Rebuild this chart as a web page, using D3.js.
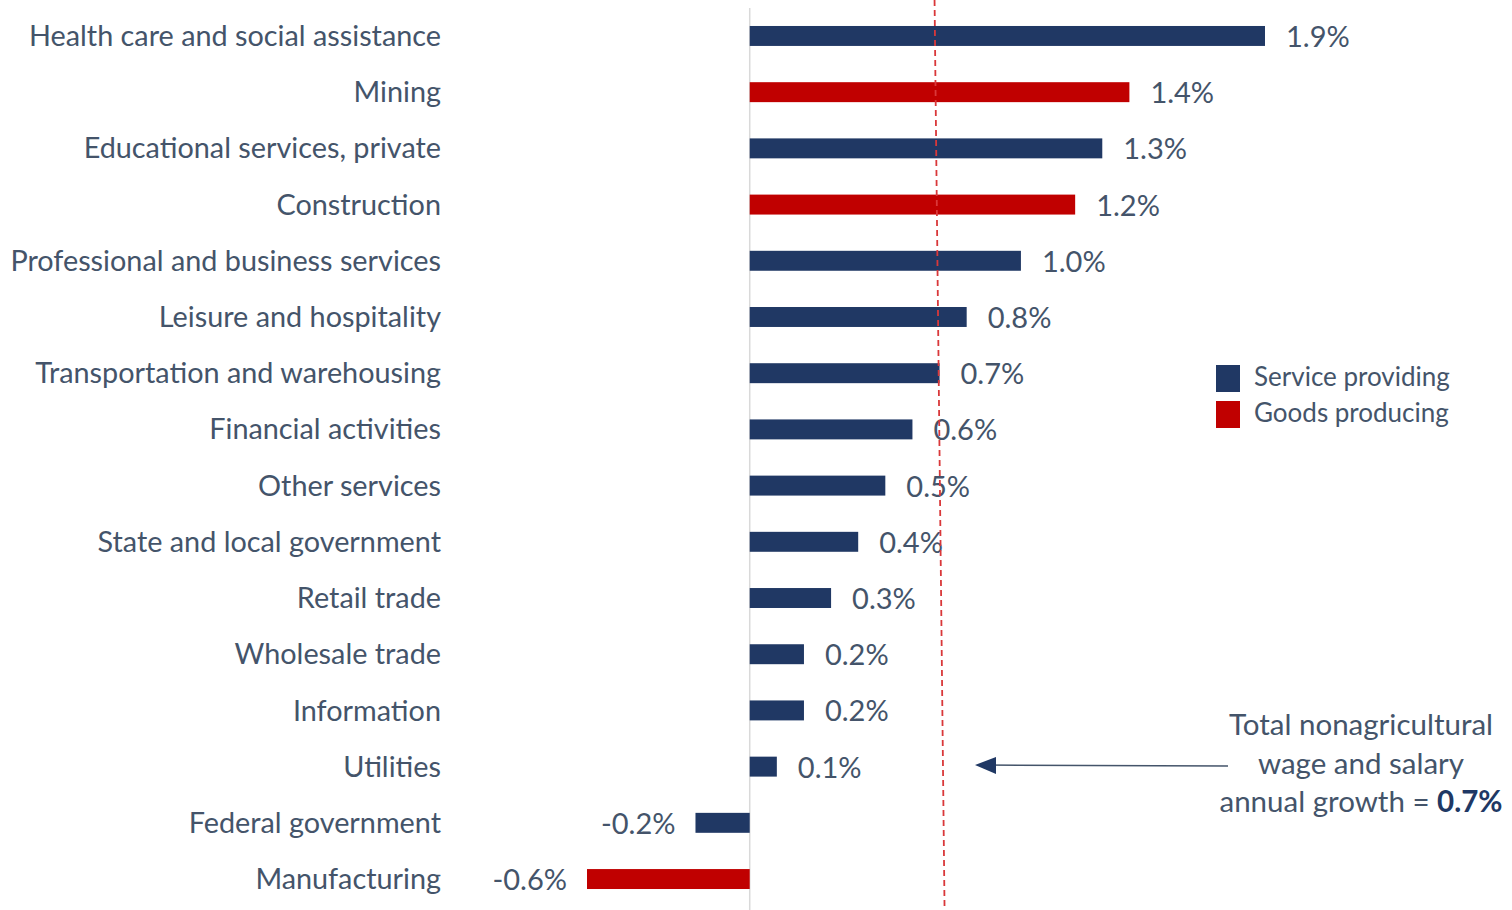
<!DOCTYPE html>
<html>
<head>
<meta charset="utf-8">
<script src="https://cdn.jsdelivr.net/npm/d3@7"></script>
<style>
body { margin: 0; background: #fff; }
text { font-family: Lato, "Open Sans", sans-serif; }
</style>
</head>
<body>
<svg id="chart"></svg>
<script>
// data
const industries = ['Health care and social assistance', 'Mining', 'Educational services, private',
  'Construction', 'Professional and business services', 'Leisure and hospitality',
  'Transportation and warehousing', 'Financial activities', 'Other services',
  'State and local government', 'Retail trade', 'Wholesale trade', 'Information',
  'Utilities', 'Federal government', 'Manufacturing'];
const growth = [1.9, 1.4, 1.3, 1.2, 1.0, 0.8, 0.7, 0.6, 0.5, 0.4, 0.3, 0.2, 0.2, 0.1, -0.2, -0.6];
const sector = ['S', 'G', 'S', 'G', 'S', 'S', 'S', 'S', 'S', 'S', 'S', 'S', 'S', 'S', 'S', 'G'];
const totalGrowth = 0.7;
const legendItems = ['Service providing', 'Goods producing'];

const width = 1512;
const height = 910;
const textColor = '#44546a';
const colors = { S: '#203864', G: '#c00000' };

const svg = d3.select('#chart')
  .attr('width', width)
  .attr('height', height);

const x = d3.scaleLinear()
  .domain([-0.6, 1.9])
  .range([587, 1265]);

const y = d3.scaleBand()
  .domain(industries)
  .range([8, 907])
  .paddingInner(0.645)
  .paddingOuter(0.32);

const rows = industries.map((d, i) => ({ name: d, value: growth[i], type: sector[i] }));

// zero line
svg.append('line')
  .attr('x1', x(0)).attr('x2', x(0))
  .attr('y1', 8).attr('y2', height)
  .attr('stroke', '#d9d9d9')
  .attr('stroke-width', 1.5);

// bars
svg.selectAll('rect.bar')
  .data(rows)
  .enter()
  .append('rect')
  .attr('class', 'bar')
  .attr('x', d => x(Math.min(0, d.value)))
  .attr('y', d => y(d.name))
  .attr('width', d => Math.abs(x(d.value) - x(0)))
  .attr('height', y.bandwidth())
  .attr('fill', d => colors[d.type]);

// category labels
svg.selectAll('text.cat')
  .data(rows)
  .enter()
  .append('text')
  .attr('class', 'cat')
  .attr('x', 441)
  .attr('y', d => y(d.name) + y.bandwidth() / 2)
  .attr('dy', '0.35em')
  .attr('text-anchor', 'end')
  .attr('font-size', 28.8)
  .attr('fill', textColor)
  .text(d => d.name);

// value labels
svg.selectAll('text.val')
  .data(rows)
  .enter()
  .append('text')
  .attr('class', 'val')
  .attr('x', d => d.value >= 0 ? x(d.value) + 21 : x(d.value) - 20)
  .attr('y', d => y(d.name) + y.bandwidth() / 2)
  .attr('dy', '0.38em')
  .attr('text-anchor', d => d.value >= 0 ? 'start' : 'end')
  .attr('font-size', 29)
  .attr('fill', textColor)
  .text(d => d.value.toFixed(1) + '%');

// total growth reference line (slightly slanted in the original)
svg.append('line')
  .attr('x1', x(totalGrowth) - 5).attr('y1', 0)
  .attr('x2', x(totalGrowth) + 5).attr('y2', height)
  .attr('stroke', '#d9383a')
  .attr('stroke-width', 1.8)
  .attr('stroke-dasharray', '6,4');

// legend
const legend = svg.append('g').attr('transform', 'translate(1216,365)');
legendItems.forEach(function(label, i) {
  legend.append('rect')
    .attr('x', 0).attr('y', i * 36)
    .attr('width', 24).attr('height', 27)
    .attr('fill', i === 0 ? colors.S : colors.G);
  legend.append('text')
    .attr('x', 38).attr('y', i * 36 + 12)
    .attr('dy', '0.35em')
    .attr('font-size', 26)
    .attr('fill', textColor)
    .text(label);
});

// annotation arrow
svg.append('line')
  .attr('x1', 1228).attr('y1', 766)
  .attr('x2', 984).attr('y2', 765)
  .attr('stroke', '#44546a')
  .attr('stroke-width', 1.5);
svg.append('path')
  .attr('d', 'M975,765 L996,757 L996,774 Z')
  .attr('fill', '#203864');

const note = svg.append('text')
  .attr('text-anchor', 'middle')
  .attr('font-size', 29.5)
  .attr('fill', textColor);
note.append('tspan').attr('x', 1361).attr('y', 735).text('Total nonagricultural');
note.append('tspan').attr('x', 1361).attr('y', 774).text('wage and salary');
const last = note.append('tspan').attr('x', 1361).attr('y', 812);
last.append('tspan').text('annual growth = ');
last.append('tspan').attr('font-weight', 'bold').attr('fill', '#203864').text(totalGrowth.toFixed(1) + '%');
</script>
</body>
</html>
